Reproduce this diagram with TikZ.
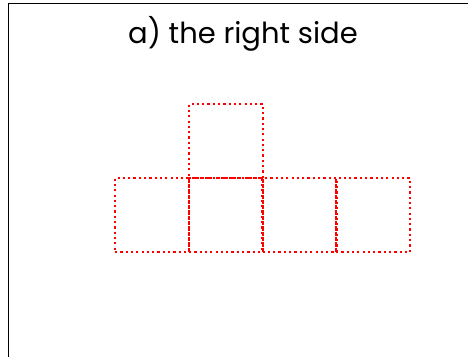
\documentclass[tikz,border=0pt]{standalone}
\usepackage{fontspec}
\setmainfont{Poppins}
\begin{document}
\begin{tikzpicture}[x=1pt,y=1pt,
  cell/.style={draw=red, line width=2.5pt, dash pattern=on 2.2pt off 3.1pt, minimum width=74pt, minimum height=74pt, inner sep=0pt},
  frameline/.style={draw=black, line width=1pt}]
\useasboundingbox (0,0) rectangle (468,-356);
\draw[frameline] (8,-360) -- (8,-3) -- (472,-3);
\node[anchor=base, font=\fontsize{29}{34}\selectfont] (title) at (243,-43) {a) the right side};
\node[cell] (top) at (226,-141) {};
\node[cell] (b1) at (152,-215) {};
\node[cell] (b2) at (226,-215) {};
\node[cell] (b3) at (299.5,-215) {};
\node[cell] (b4) at (373,-215) {};
\end{tikzpicture}
\end{document}
